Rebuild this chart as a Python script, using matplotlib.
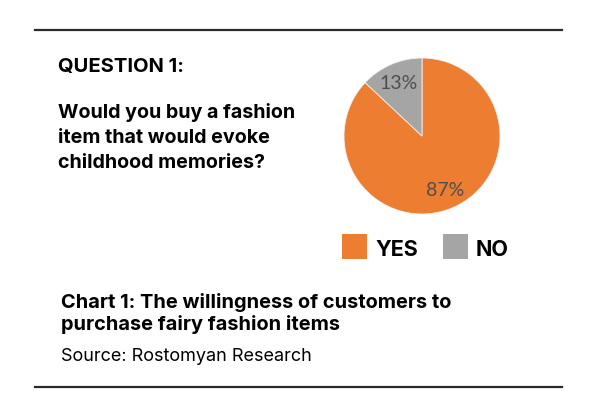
import matplotlib
matplotlib.use('Agg')
import matplotlib.pyplot as plt
from matplotlib.patches import Rectangle
from matplotlib.lines import Line2D

categories = ['YES', 'NO']
shares = [87, 13]
colors = ['#ED7D31', '#A5A5A5']

question_tag = 'QUESTION 1:'
question_lines = ['Would you buy a fashion', 'item that would evoke', 'childhood memories?']
caption_lines = ['Chart 1: The willingness of customers to', 'purchase fairy fashion items']
source_text = 'Source: Rostomyan Research'

W, H = 604, 406
plt.rcParams['font.family'] = ['Inter', 'DejaVu Sans']
fig = plt.figure(figsize=(W / 100, H / 100), dpi=100)
fig.patch.set_facecolor('white')


def fx(px):
    return px / W


def fy(py):
    return 1 - py / H


# rules at top and bottom
for y in (31, 388):
    fig.add_artist(Line2D([fx(35), fx(562)], [fy(y), fy(y)], color='#2b2b2b', lw=1.6))

# left text block
fig.text(fx(58), fy(72), question_tag, fontsize=14.5, fontweight='bold', color='black')
for i, line in enumerate(question_lines):
    fig.text(fx(58), fy(118 + i * 25), line, fontsize=14.2, fontweight='bold', color='black')

for i, line in enumerate(caption_lines):
    fig.text(fx(61), fy(308 + i * 22), line, fontsize=14.4, fontweight='bold', color='black')
fig.text(fx(61), fy(361), source_text, fontsize=13, color='black')

# pie
cx, cy, r = 422, 137, 78
box = 2 * r
ax = fig.add_axes([fx(cx - r), fy(cy + r), box / W, box / H])
wedges, _, autotexts = ax.pie(shares, colors=colors, startangle=90, counterclock=False,
                              autopct='%d%%', pctdistance=0.75, radius=1.0,
                              wedgeprops=dict(linewidth=0.6, edgecolor='#f2f2f2'),
                              textprops=dict(color='#4f4f4f', fontsize=14, family=['Lato', 'DejaVu Sans']))
ax.set_xlim(-1, 1)
ax.set_ylim(-1, 1)
ax.set_aspect('equal')
ax.axis('off')

# legend drawn by hand
leg_x = [342, 443]
for x0, cat, col in zip(leg_x, categories, colors):
    fig.add_artist(Rectangle((fx(x0), fy(260)), 25 / W, 25 / H, facecolor=col, edgecolor='none'))
    fig.text(fx(x0 + 33), fy(256), cat, fontsize=15.5, fontweight='bold', color='black')

fig.savefig('out.png', dpi=100)
